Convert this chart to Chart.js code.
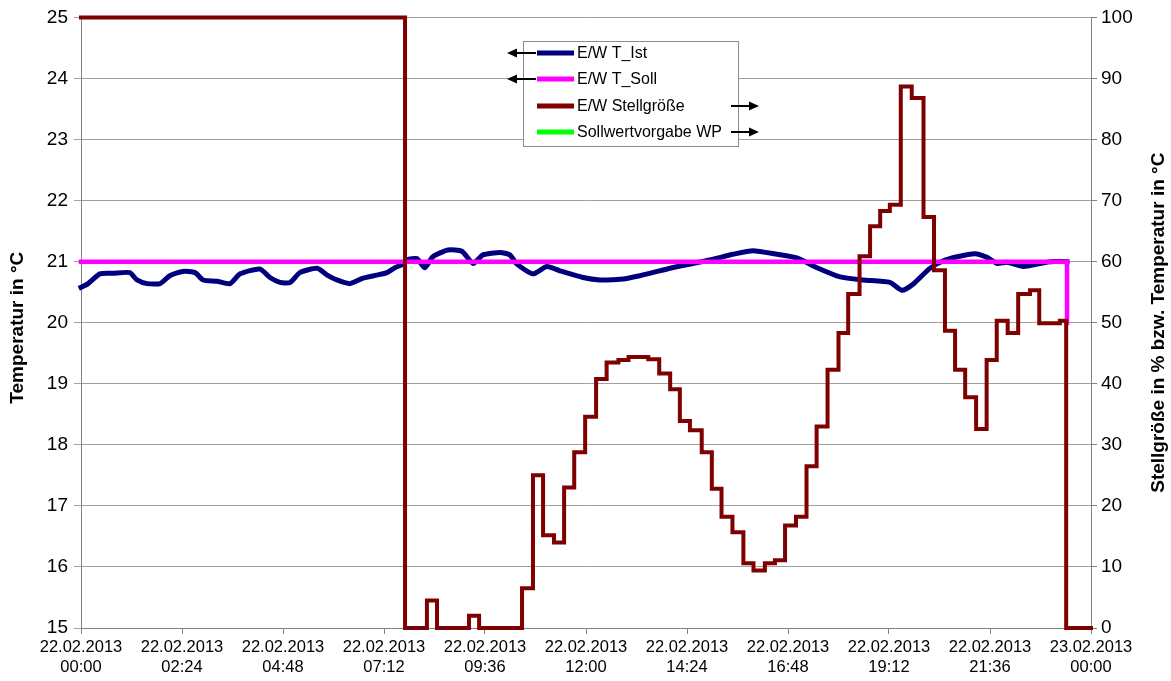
<!DOCTYPE html>
<html>
<head>
<meta charset="utf-8">
<script src="https://cdn.jsdelivr.net/npm/chart.js@4"></script>
<style>
  body { margin: 0; background: #fff; }
  #wrap { width: 1171px; height: 681px; }
</style>
</head>
<body>
<div id="wrap"><canvas id="tempChart" width="1171" height="681"></canvas></div>
<script>
// x tick labels (one every 2:24 h)
const tickLabels = [
    ['22.02.2013', '00:00'], ['22.02.2013', '02:24'], ['22.02.2013', '04:48'],
    ['22.02.2013', '07:12'], ['22.02.2013', '09:36'], ['22.02.2013', '12:00'],
    ['22.02.2013', '14:24'], ['22.02.2013', '16:48'], ['22.02.2013', '19:12'],
    ['22.02.2013', '21:36'], ['23.02.2013', '00:00']
];

// E/W T_Ist (hours since 22.02.2013 00:00, °C)
const istHours = [0, 0.17, 0.45, 0.76, 1.16, 1.33, 1.57, 1.88, 2.11, 2.42, 2.71, 2.90, 3.23, 3.54, 3.78,
    4.25, 4.49, 4.73, 4.97, 5.20, 5.61, 5.85, 6.08, 6.39, 6.70, 7.03, 7.27, 7.46, 7.65, 7.75, 7.98,
    8.17, 8.36, 8.72, 9.05, 9.32, 9.55, 9.96, 10.19, 10.36, 10.74, 11.07, 11.38, 11.93, 12.33, 12.81,
    13.28, 13.93, 14.54, 15.02, 15.49, 15.97, 16.54, 17.01, 17.49, 18.04, 18.58, 19.22, 19.51, 19.77,
    20.17, 20.48, 20.82, 21.24, 21.53, 21.77, 22.00, 22.39, 22.79, 23.03, 23.43];
const istTemp = [20.58, 20.64, 20.80, 20.81, 20.82, 20.70, 20.64, 20.64, 20.77, 20.84, 20.82, 20.70, 20.68, 20.64, 20.80,
    20.88, 20.74, 20.66, 20.66, 20.82, 20.89, 20.78, 20.70, 20.64, 20.73, 20.78, 20.82, 20.90, 20.96, 21.03, 21.05,
    20.90, 21.08, 21.19, 21.17, 20.97, 21.11, 21.15, 21.11, 20.96, 20.80, 20.92, 20.85, 20.74, 20.70, 20.71,
    20.77, 20.88, 20.97, 21.04, 21.12, 21.18, 21.12, 21.06, 20.90, 20.75, 20.70, 20.66, 20.53, 20.63,
    20.89, 21.01, 21.08, 21.13, 21.07, 20.97, 20.99, 20.92, 20.97, 21.00, 21.00];

// E/W T_Soll
const sollHours = [0, 23.43, 23.43];
const sollTemp = [21, 21, 20];

// E/W Stellgröße in % (value holds from its time until the next one)
const stellHours = [0, 7.70, 8.22, 8.46, 9.22, 9.46, 10.48, 10.74, 10.98, 11.24, 11.48, 11.72, 11.98,
    12.24, 12.49, 12.77, 13.01, 13.48, 13.74, 14.00, 14.23, 14.47, 14.75, 14.99, 15.22, 15.48, 15.74,
    15.98, 16.25, 16.49, 16.73, 16.99, 17.24, 17.48, 17.74, 18.00, 18.23, 18.50, 18.75, 18.99, 19.22,
    19.48, 19.74, 20.02, 20.27, 20.53, 20.77, 21.01, 21.27, 21.52, 21.76, 22.02, 22.27, 22.55, 22.77,
    23.26, 23.41, 24];
const stellValue = [100, 0, 4.5, 0, 2, 0, 6.5, 25, 15.2, 14, 23, 28.8, 34.6,
    40.8, 43.5, 43.9, 44.4, 44.0, 41.7, 39.1, 33.9, 32.4, 28.8, 22.8, 18.2, 15.7, 10.6,
    9.4, 10.6, 11.1, 16.8, 18.2, 26.5, 33.0, 42.3, 48.3, 54.7, 60.9, 65.8, 68.3, 69.3,
    88.7, 86.8, 67.3, 58.6, 48.7, 42.3, 37.8, 32.6, 43.9, 50.3, 48.3, 54.7, 55.3, 49.9,
    50.3, 0, 0];

// Sollwertvorgabe WP (no values in this period)
const wpHours = [];
const wpValue = [];

const leftTitle = 'Temperatur in °C';
const rightTitle = 'Stellgröße in % bzw. Temperatur in °C';

function toPoints(xs, ys) {
    return xs.map(function(x, i) { return { x: x, y: ys[i] }; });
}

Chart.defaults.font.family = '"Liberation Sans", Arial, sans-serif';
Chart.defaults.color = '#000';

function drawArrow(ctx, fromX, toX, y) {
    const dir = toX > fromX ? 1 : -1;
    ctx.beginPath();
    ctx.moveTo(fromX, y);
    ctx.lineTo(toX - dir * 6, y);
    ctx.stroke();
    ctx.beginPath();
    ctx.moveTo(toX, y);
    ctx.lineTo(toX - dir * 10, y - 4.5);
    ctx.lineTo(toX - dir * 10, y + 4.5);
    ctx.closePath();
    ctx.fill();
}

// axis titles and the boxed legend with arrows to the axis of each series
const overlayPlugin = {
    id: 'overlay',
    afterDraw(chart) {
        const ctx = chart.ctx;
        const area = chart.chartArea;
        const midY = (area.top + area.bottom) / 2;
        ctx.save();
        ctx.fillStyle = '#000';
        ctx.font = 'bold 19px "Liberation Sans", Arial, sans-serif';
        ctx.textAlign = 'center';
        ctx.textBaseline = 'middle';

        ctx.save();
        ctx.translate(18, midY + 5);
        ctx.rotate(-Math.PI / 2);
        ctx.fillText(leftTitle, 0, 0);
        ctx.restore();

        ctx.save();
        ctx.translate(1159, midY);
        ctx.rotate(-Math.PI / 2);
        ctx.fillText(rightTitle, 0, 0);
        ctx.restore();

        // legend box
        ctx.fillStyle = '#fff';
        ctx.fillRect(523.5, 41.5, 215, 105);
        ctx.strokeStyle = '#8c8c8c';
        ctx.lineWidth = 1;
        ctx.strokeRect(523.5, 41.5, 215, 105);

        const rowY = [53, 79, 106, 132];
        ctx.font = '16px "Liberation Sans", Arial, sans-serif';
        ctx.textAlign = 'left';
        chart.data.datasets.forEach(function(ds, i) {
            const y = rowY[i];
            ctx.strokeStyle = ds.borderColor;
            ctx.lineWidth = 5;
            ctx.beginPath();
            ctx.moveTo(537, y);
            ctx.lineTo(574, y);
            ctx.stroke();
            ctx.fillStyle = '#000';
            ctx.fillText(ds.label, 577, y + 1);
            ctx.strokeStyle = '#000';
            ctx.lineWidth = 2;
            if (ds.yAxisID === 'y') {
                drawArrow(ctx, 536, 507, y);
            } else {
                drawArrow(ctx, 731, 759, y);
            }
        });
        ctx.restore();
    }
};

const ctx = document.getElementById('tempChart').getContext('2d');
const tempChart = new Chart(ctx, {
    type: 'line',
    data: {
        datasets: [{
            label: 'E/W T_Ist',
            data: toPoints(istHours, istTemp),
            borderColor: '#00007f',
            borderWidth: 5,
            tension: 0.2,
            yAxisID: 'y',
            order: 3
        }, {
            label: 'E/W T_Soll',
            data: toPoints(sollHours, sollTemp),
            borderColor: '#ff00ff',
            borderWidth: 4.5,
            yAxisID: 'y',
            order: 2
        }, {
            label: 'E/W Stellgröße',
            data: toPoints(stellHours, stellValue),
            borderColor: '#7f0000',
            borderWidth: 4,
            stepped: true,
            yAxisID: 'y1',
            order: 1
        }, {
            label: 'Sollwertvorgabe WP',
            data: toPoints(wpHours, wpValue),
            borderColor: '#00ff00',
            borderWidth: 4,
            yAxisID: 'y1',
            order: 0
        }]
    },
    options: {
        responsive: false,
        animation: false,
        clip: false,
        elements: {
            point: { radius: 0 },
            line: { borderCapStyle: 'square', borderJoinStyle: 'miter' }
        },
        layout: { padding: { top: 16, left: 0, right: 0, bottom: 0 } },
        plugins: {
            legend: { display: false },
            tooltip: { enabled: false }
        },
        scales: {
            x: {
                type: 'linear',
                min: 0,
                max: 24,
                ticks: {
                    stepSize: 2.4,
                    autoSkip: false,
                    maxRotation: 0,
                    padding: 4,
                    font: { size: 16.5 },
                    callback: function(value, index) { return tickLabels[index]; }
                },
                grid: { drawOnChartArea: false, tickLength: 6, color: '#808080' },
                border: { color: '#808080', width: 1 },
                afterFit: function(scale) { scale.height = 53; }
            },
            y: {
                position: 'left',
                min: 15,
                max: 25,
                ticks: { stepSize: 1, padding: 6, font: { size: 19 } },
                grid: { color: '#a0a0a0', tickLength: 7 },
                border: { color: '#808080', width: 1 },
                afterFit: function(scale) { scale.width = 81; }
            },
            y1: {
                position: 'right',
                min: 0,
                max: 100,
                ticks: { stepSize: 10, padding: 4, font: { size: 19 } },
                grid: { drawOnChartArea: false, color: '#808080', tickLength: 6 },
                border: { color: '#808080', width: 1 },
                afterFit: function(scale) { scale.width = 80; }
            }
        }
    },
    plugins: [overlayPlugin]
});
</script>
</body>
</html>
